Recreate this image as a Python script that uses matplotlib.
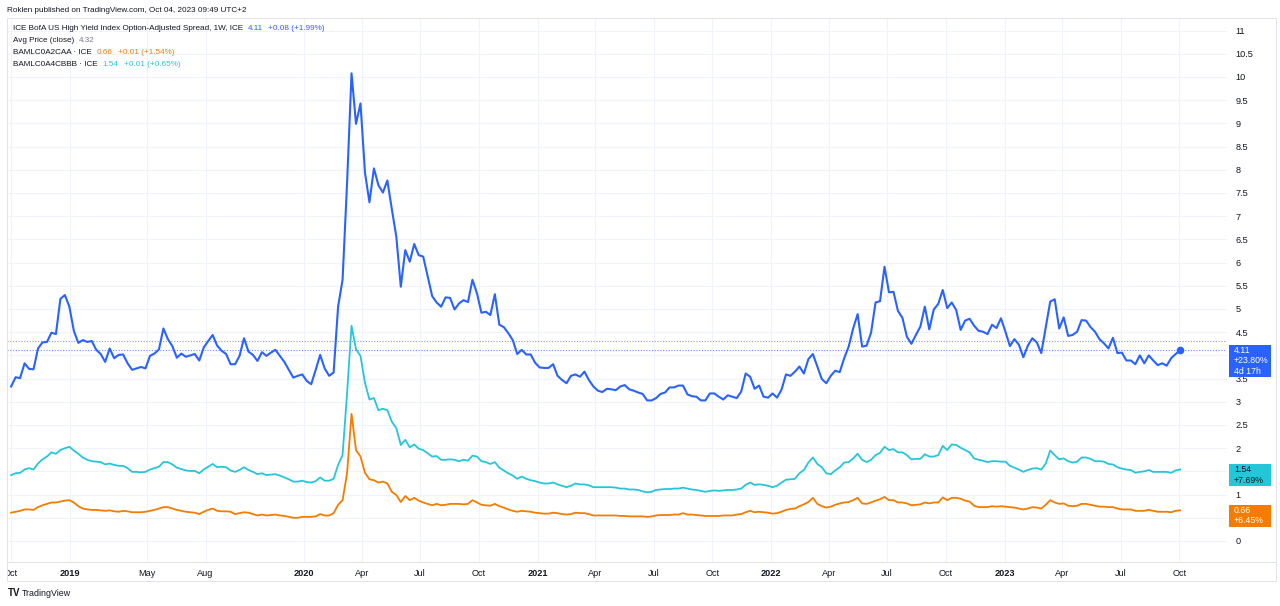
import matplotlib
matplotlib.use('Agg')
import matplotlib.pyplot as plt
import matplotlib.dates as mdates
from matplotlib.patches import Rectangle
from matplotlib.lines import Line2D
from matplotlib.transforms import Bbox, TransformedBbox
import numpy as np
import pandas as pd

# ---------------- data (weekly closes) ----------------
dates = pd.date_range('2018-10-01', '2023-10-02', freq='7D')

hy_oas = [
    3.33, 3.53, 3.51, 3.83, 3.71, 3.70, 4.15, 4.28, 4.29, 4.49, 4.46, 5.22, 5.30, 5.05, 4.53, 4.27,
    4.33, 4.29, 4.31, 4.12, 4.03, 3.86, 4.15, 3.94, 4.01, 4.02, 3.83, 3.69, 3.72, 3.75, 3.72, 3.99,
    4.04, 4.13, 4.58, 4.35, 4.20, 3.95, 4.04, 3.97, 4.00, 4.03, 3.89, 4.17, 4.31, 4.44,
    4.21, 4.10, 4.03, 3.81, 3.81, 3.99, 4.37, 4.08, 4.01, 3.88, 4.07, 3.99, 4.06, 4.12, 3.99, 3.86,
    3.69, 3.52, 3.56, 3.59, 3.45, 3.38, 3.69, 4.01, 3.72, 3.56, 3.63, 5.05, 5.63, 7.70, 10.08, 8.99,
    9.43, 7.94, 7.30, 8.03, 7.67, 7.51, 7.77, 7.15, 6.56, 5.48, 6.27, 6.02,
    6.40, 6.16, 6.13, 5.70, 5.28, 5.14, 5.05, 5.25, 5.24, 4.99, 5.12, 5.19, 5.15, 5.63, 5.34, 4.92,
    4.94, 4.87, 5.32, 4.66, 4.61, 4.48, 4.33, 4.03, 4.12, 4.02, 4.02, 3.84, 3.74, 3.73, 3.73, 3.81,
    3.56, 3.47, 3.40, 3.56, 3.59, 3.54, 3.65, 3.47, 3.33, 3.24, 3.21, 3.28, 3.27,
    3.25, 3.33, 3.36, 3.27, 3.24, 3.20, 3.17, 3.03, 3.03, 3.08, 3.17, 3.20, 3.31, 3.31, 3.35, 3.35,
    3.16, 3.12, 3.11, 3.03, 3.03, 3.18, 3.18, 3.11, 3.05, 3.14, 3.11, 3.08, 3.22, 3.61, 3.54, 3.28,
    3.35, 3.11, 3.09, 3.18, 3.09, 3.26, 3.59, 3.56, 3.65, 3.76, 3.61, 3.92,
    4.03, 3.76, 3.49, 3.40, 3.56, 3.67, 3.64, 3.94, 4.19, 4.58, 4.89, 4.19, 4.21, 4.49, 5.14, 5.17,
    5.91, 5.36, 5.37, 4.96, 4.81, 4.40, 4.25, 4.44, 4.62, 5.05, 4.56, 4.99, 5.11, 5.41, 5.02, 5.14,
    4.98, 4.55, 4.75, 4.79, 4.64, 4.53, 4.51, 4.46, 4.66, 4.59,
    4.80, 4.51, 4.20, 4.35, 4.23, 3.96, 4.21, 4.37, 4.28, 4.05, 4.61, 5.16, 5.21, 4.58, 4.82, 4.42,
    4.44, 4.51, 4.76, 4.75, 4.61, 4.51, 4.35, 4.26, 4.15, 4.38, 4.05, 4.06, 3.89, 3.89, 3.81, 4.00,
    3.83, 4.00, 3.89, 3.79, 3.83, 3.78, 3.94, 4.03, 4.11,
]

bbb_oas = [
    1.42, 1.46, 1.47, 1.54, 1.57, 1.54, 1.67, 1.76, 1.82, 1.91, 1.88, 1.96, 2.00, 2.03, 1.95, 1.88,
    1.80, 1.75, 1.72, 1.71, 1.70, 1.65, 1.67, 1.64, 1.62, 1.62, 1.57, 1.49, 1.49, 1.48, 1.49, 1.54,
    1.57, 1.60, 1.70, 1.70, 1.65, 1.58, 1.55, 1.52, 1.51, 1.51, 1.46, 1.54, 1.60, 1.66,
    1.59, 1.60, 1.59, 1.52, 1.49, 1.53, 1.59, 1.53, 1.49, 1.44, 1.46, 1.42, 1.43, 1.44, 1.41, 1.37,
    1.33, 1.28, 1.28, 1.30, 1.27, 1.26, 1.29, 1.37, 1.30, 1.30, 1.34, 1.64, 1.85, 3.18, 4.64, 4.13,
    3.99, 3.41, 3.05, 3.08, 2.82, 2.85, 2.82, 2.57, 2.43, 2.07, 2.18, 2.02,
    2.08, 1.99, 1.96, 1.89, 1.82, 1.83, 1.75, 1.75, 1.76, 1.75, 1.72, 1.75, 1.73, 1.84, 1.82, 1.72,
    1.70, 1.66, 1.70, 1.58, 1.52, 1.46, 1.41, 1.34, 1.39, 1.34, 1.31, 1.29, 1.26, 1.24, 1.24, 1.26,
    1.22, 1.19, 1.16, 1.19, 1.24, 1.22, 1.22, 1.20, 1.16, 1.16, 1.16, 1.16, 1.16,
    1.15, 1.13, 1.13, 1.11, 1.11, 1.10, 1.07, 1.05, 1.06, 1.10, 1.11, 1.12, 1.12, 1.13, 1.13, 1.15,
    1.13, 1.11, 1.10, 1.08, 1.06, 1.08, 1.09, 1.08, 1.09, 1.10, 1.10, 1.11, 1.13, 1.21, 1.26, 1.21,
    1.22, 1.21, 1.19, 1.16, 1.19, 1.26, 1.32, 1.33, 1.34, 1.46, 1.53, 1.69,
    1.80, 1.66, 1.59, 1.46, 1.44, 1.52, 1.59, 1.69, 1.70, 1.78, 1.88, 1.75, 1.70, 1.75, 1.85, 1.90,
    2.03, 1.96, 1.98, 1.91, 1.91, 1.85, 1.76, 1.77, 1.77, 1.87, 1.82, 1.82, 1.85, 2.05, 1.96, 2.08,
    2.07, 2.01, 1.96, 1.91, 1.78, 1.75, 1.73, 1.70, 1.72, 1.72,
    1.71, 1.71, 1.62, 1.58, 1.54, 1.49, 1.53, 1.56, 1.57, 1.54, 1.67, 1.95, 1.85, 1.76, 1.78, 1.72,
    1.69, 1.71, 1.80, 1.80, 1.77, 1.72, 1.72, 1.71, 1.66, 1.65, 1.59, 1.56, 1.54, 1.53, 1.47, 1.49,
    1.50, 1.53, 1.49, 1.49, 1.49, 1.49, 1.47, 1.52, 1.54,
]

aa_oas = [
    0.61, 0.63, 0.65, 0.68, 0.68, 0.67, 0.73, 0.77, 0.80, 0.83, 0.83, 0.85, 0.87, 0.88, 0.83, 0.75,
    0.70, 0.68, 0.67, 0.67, 0.66, 0.65, 0.66, 0.64, 0.63, 0.65, 0.64, 0.62, 0.62, 0.62, 0.63, 0.65,
    0.67, 0.70, 0.73, 0.73, 0.70, 0.67, 0.65, 0.63, 0.62, 0.61, 0.58, 0.63, 0.67, 0.70,
    0.65, 0.64, 0.64, 0.63, 0.58, 0.60, 0.62, 0.61, 0.58, 0.55, 0.57, 0.55, 0.56, 0.57, 0.55, 0.54,
    0.52, 0.50, 0.50, 0.52, 0.52, 0.52, 0.53, 0.58, 0.55, 0.55, 0.60, 0.78, 0.88, 1.46, 2.74, 1.96,
    1.82, 1.47, 1.33, 1.31, 1.26, 1.28, 1.24, 1.06, 0.99, 0.84, 0.97, 0.88,
    0.93, 0.87, 0.83, 0.80, 0.77, 0.80, 0.77, 0.78, 0.80, 0.80, 0.80, 0.79, 0.80, 0.88, 0.83, 0.78,
    0.77, 0.76, 0.80, 0.75, 0.72, 0.68, 0.65, 0.63, 0.65, 0.64, 0.63, 0.61, 0.60, 0.59, 0.59, 0.61,
    0.60, 0.58, 0.57, 0.58, 0.61, 0.60, 0.60, 0.58, 0.55, 0.55, 0.55, 0.55, 0.55,
    0.55, 0.54, 0.54, 0.53, 0.53, 0.53, 0.53, 0.52, 0.53, 0.55, 0.56, 0.56, 0.56, 0.57, 0.57, 0.60,
    0.57, 0.57, 0.56, 0.55, 0.54, 0.54, 0.54, 0.54, 0.55, 0.55, 0.55, 0.57, 0.58, 0.62, 0.65, 0.62,
    0.63, 0.62, 0.61, 0.59, 0.60, 0.63, 0.67, 0.69, 0.70, 0.75, 0.79, 0.84,
    0.93, 0.80, 0.75, 0.72, 0.74, 0.78, 0.81, 0.83, 0.84, 0.88, 0.93, 0.81, 0.80, 0.83, 0.87, 0.90,
    0.95, 0.88, 0.88, 0.83, 0.83, 0.81, 0.77, 0.78, 0.79, 0.83, 0.81, 0.83, 0.83, 0.94, 0.88, 0.93,
    0.93, 0.91, 0.87, 0.85, 0.76, 0.73, 0.73, 0.73, 0.75, 0.74,
    0.75, 0.74, 0.73, 0.72, 0.70, 0.68, 0.70, 0.73, 0.72, 0.70, 0.78, 0.88, 0.83, 0.80, 0.81, 0.76,
    0.75, 0.76, 0.80, 0.80, 0.78, 0.76, 0.74, 0.74, 0.73, 0.73, 0.70, 0.68, 0.68, 0.68, 0.65, 0.65,
    0.65, 0.67, 0.65, 0.63, 0.63, 0.63, 0.62, 0.65, 0.66,
]

avg_price = 4.32

x_tick_dates = ['2018-10-01', '2019-01-01', '2019-05-01', '2019-08-01', '2020-01-01', '2020-04-01',
                '2020-07-01', '2020-10-01', '2021-01-01', '2021-04-01', '2021-07-01', '2021-10-01',
                '2022-01-01', '2022-04-01', '2022-07-01', '2022-10-01', '2023-01-01', '2023-04-01',
                '2023-07-01', '2023-10-01']
x_tick_labels = ['Oct', '2019', 'May', 'Aug', '2020', 'Apr', 'Jul', 'Oct', '2021', 'Apr', 'Jul', 'Oct',
                 '2022', 'Apr', 'Jul', 'Oct', '2023', 'Apr', 'Jul', 'Oct']
y_ticks = np.arange(0, 11.01, 0.5)

title_text = 'Roklen published on TradingView.com, Oct 04, 2023 09:49 UTC+2'
legend_rows = [
    [('ICE BofA US High Yield Index Option-Adjusted Spread, 1W, ICE', 'dark'), ('4.11', 'blue'), ('+0.08 (+1.99%)', 'blue')],
    [('Avg Price (close)', 'dark'), ('4.32', 'gray')],
    [('BAMLC0A2CAA · ICE', 'dark'), ('0.66', 'orange'), ('+0.01 (+1.54%)', 'orange')],
    [('BAMLC0A4CBBB · ICE', 'dark'), ('1.54', 'cyan'), ('+0.01 (+0.65%)', 'cyan')],
]
tags = [
    (4.11, ['4.11', '+23.80%', '4d 17h'], 'blue', 'white'),
    (1.54, ['1.54', '+7.69%'], 'cyan', 'dark'),
    (0.66, ['0.66', '+6.45%'], 'orange', 'white'),
]

# ---------------- style ----------------
C = {'blue': '#2962FF', 'cyan': '#26C6DA', 'orange': '#F57C00', 'dark': '#131722',
     'gray': '#787B86', 'white': '#FFFFFF'}
GRID = '#F0F3FA'
FRAME = '#E0E3EB'
plt.rcParams['font.family'] = ['Liberation Sans', 'DejaVu Sans']
FS = 5.9
TAG_TOP, LINE_H = 5.5, 10.5

W, H = 1280, 606
fig = plt.figure(figsize=(W / 100, H / 100), dpi=100)
fig.patch.set_facecolor('white')


def box(x0, y0, x1, y1):
    return [x0 / W, 1 - y1 / H, (x1 - x0) / W, (y1 - y0) / H]


PLOT_L, PLOT_R, PLOT_T, PLOT_B = 7, 1227, 18, 562
ax = fig.add_axes(box(PLOT_L, PLOT_T, PLOT_R, PLOT_B))
ax.set_facecolor('white')

ax.plot(dates, aa_oas, color=C['orange'], lw=1.3, solid_joinstyle='round', zorder=3)
ax.plot(dates, bbb_oas, color=C['cyan'], lw=1.3, solid_joinstyle='round', zorder=3)
ax.plot(dates, hy_oas, color=C['blue'], lw=1.5, solid_joinstyle='round', zorder=4)
ax.plot(dates[-1:], hy_oas[-1:], 'o', color=C['blue'], ms=4.5, zorder=5)

ax.axhline(avg_price, color='#9598A1', lw=0.8, ls=(0, (1, 1.5)), zorder=2)
ax.axhline(hy_oas[-1], color=C['blue'], lw=0.8, ls=(0, (1, 1.5)), alpha=0.7, zorder=2)

jan19 = mdates.date2num(pd.Timestamp('2019-01-01'))
px_per_day = 233.7 / 365.25
xl0 = jan19 - (70 - PLOT_L) / px_per_day
xl1 = jan19 + (PLOT_R - 70) / px_per_day
ax.set_xlim(xl0, xl1)
ax.set_ylim((541 - PLOT_B) / 46.4, (541 - PLOT_T) / 46.4)

xt = [mdates.date2num(pd.Timestamp(d)) for d in x_tick_dates]
ax.set_xticks(xt)
ax.set_xticklabels(x_tick_labels)
ax.tick_params(axis='x', length=0, pad=5, labelsize=6.6, labelcolor=C['dark'])
clip = TransformedBbox(Bbox([[PLOT_L / W, 0], [1, 1]]), fig.transFigure)
for lab in ax.get_xticklabels():
    if lab.get_text().isdigit():
        lab.set_fontweight('bold')
    lab.set_clip_box(clip)
    lab.set_clip_on(True)

# y labels: the ones hidden behind a price tag are not shown (as on the original)
px_per_unit = ax.transData.transform((xl0, 1))[1] - ax.transData.transform((xl0, 0))[1]


def covered(v):
    for val, lines, _, _ in tags:
        top = val + (TAG_TOP - 1) / px_per_unit
        bot = val - (LINE_H * len(lines) - TAG_TOP - 2) / px_per_unit
        if bot <= v <= top:
            return True
    return False


ax.yaxis.tick_right()
ax.set_yticks(y_ticks)
ax.set_yticklabels([('' if covered(v) else '%g' % v) for v in y_ticks])
ax.tick_params(axis='y', length=0, pad=6, labelsize=6.6, labelcolor=C['dark'])

ax.grid(True, color=GRID, lw=0.8)
ax.set_axisbelow(True)
for s in ax.spines.values():
    s.set_visible(False)

# frame around chart + separator
fig.add_artist(Rectangle((PLOT_L / W, 1 - 581 / H), (1276 - PLOT_L) / W, (581 - PLOT_T) / H,
                         transform=fig.transFigure, fill=False, ec=FRAME, lw=0.7))
fig.add_artist(Line2D([PLOT_L / W, 1276 / W], [1 - PLOT_B / H, 1 - PLOT_B / H],
                      transform=fig.transFigure, color=FRAME, lw=0.7))

# title and legend
fig.text(7 / W, 1 - 10.5 / H, title_text, fontsize=FS, color=C['dark'], va='center', ha='left')
renderer = fig.canvas.get_renderer()
row_y = [29, 41, 52.7, 64.3]
for y, parts in zip(row_y, legend_rows):
    x = 13
    for s, col in parts:
        t = fig.text(x / W, 1 - y / H, s, fontsize=FS, color=C[col], va='center', ha='left')
        x += t.get_window_extent(renderer).width + 5

# price tags
for val, lines, bg, fg in tags:
    ypx = ax.transData.transform((xl0, val))[1]  # display pixels from bottom
    top = ypx + TAG_TOP
    hgt = LINE_H * len(lines) + 1
    fig.add_artist(Rectangle((1229 / W, (top - hgt) / H), 42 / W, hgt / H,
                             transform=fig.transFigure, fc=C[bg], ec='none', zorder=10))
    for k, s in enumerate(lines):
        fig.text(1234 / W, (top - 5.5 - LINE_H * k) / H, s, fontsize=6.3, color=C[fg],
                 va='center', ha='left', zorder=11)

# footer logo
fig.text(8 / W, 1 - 593 / H, 'TV', fontsize=7, fontweight='bold', color=C['dark'],
         va='center', ha='left')
fig.text(22 / W, 1 - 593 / H, 'TradingView', fontsize=6.4, color=C['dark'], va='center', ha='left')

fig.savefig('out.png', dpi=100)
